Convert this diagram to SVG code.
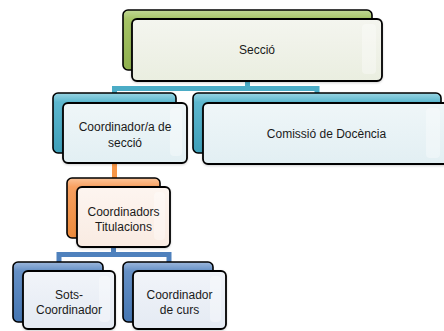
<svg xmlns="http://www.w3.org/2000/svg" width="444" height="331" viewBox="0 0 444 331">
<defs>
<linearGradient id="gGreen" x1="0" y1="0" x2="0" y2="1"><stop offset="0" stop-color="#c2d896"/><stop offset="0.15" stop-color="#a6c466"/><stop offset="1" stop-color="#8fb04e"/></linearGradient>
<linearGradient id="gBlue" x1="0" y1="0" x2="0" y2="1"><stop offset="0" stop-color="#9ad5e3"/><stop offset="0.15" stop-color="#5db8cf"/><stop offset="1" stop-color="#3e9fb9"/></linearGradient>
<linearGradient id="gOrange" x1="0" y1="0" x2="0" y2="1"><stop offset="0" stop-color="#fbc49a"/><stop offset="0.15" stop-color="#f8a060"/><stop offset="1" stop-color="#ec8a3c"/></linearGradient>
<linearGradient id="gSteel" x1="0" y1="0" x2="0" y2="1"><stop offset="0" stop-color="#9db8dc"/><stop offset="0.15" stop-color="#6590c6"/><stop offset="1" stop-color="#4576b2"/></linearGradient>
<linearGradient id="fGreen" x1="0" y1="0" x2="0" y2="1"><stop offset="0" stop-color="#f4f5ef"/><stop offset="1" stop-color="#eaeee0"/></linearGradient>
<linearGradient id="fBlue" x1="0" y1="0" x2="0" y2="1"><stop offset="0" stop-color="#eff6f8"/><stop offset="1" stop-color="#e2eff3"/></linearGradient>
<linearGradient id="fOrange" x1="0" y1="0" x2="0" y2="1"><stop offset="0" stop-color="#fdf5f0"/><stop offset="1" stop-color="#f9ebe2"/></linearGradient>
<linearGradient id="fSteel" x1="0" y1="0" x2="0" y2="1"><stop offset="0" stop-color="#f1f4f9"/><stop offset="1" stop-color="#e4eaf3"/></linearGradient>
<filter id="sh" x="-10%" y="-10%" width="120%" height="130%"><feDropShadow dx="0" dy="1" stdDeviation="1" flood-color="#000" flood-opacity="0.18"/></filter>
</defs>
<style>
.back{stroke:#000;stroke-width:1.6}
.front{stroke:#000;stroke-width:1.8;filter:url(#sh)}
.hl{fill:#ffffff;opacity:0.35}
.conn{fill:none;stroke-width:5;stroke-linejoin:miter}
text{font-family:"Liberation Sans",Arial,sans-serif;font-size:12px;fill:#1a1a1a;text-anchor:middle;dominant-baseline:central}
</style>
<g id="connectors">
<path class="conn" stroke="#4bacc6" d="M247.5,81 V88.5 H114.5 V93 M247.5,88.5 H317 V93"/>
<path class="conn" stroke="#f79646" d="M114.5,163 V178"/>
<path class="conn" stroke="#4f81bd" d="M113.5,247 V254.5 H59 V262 M113.5,254.5 H169 V262"/>
</g>
<g id="n-seccio">
<rect class="back" x="123" y="10" width="249" height="60" rx="5" fill="url(#gGreen)"/>
<rect class="front" x="132" y="19" width="250" height="62" rx="5" fill="url(#fGreen)"/>
<rect class="hl" x="362" y="24" width="14" height="50" rx="4"/>
<text x="257" y="50">Secció</text>
</g>
<g id="n-coord">
<rect class="back" x="53" y="93" width="123" height="60" rx="5" fill="url(#gBlue)"/>
<rect class="front" x="63" y="103" width="124" height="60" rx="5" fill="url(#fBlue)"/>
<rect class="hl" x="170" y="108" width="12" height="48" rx="4"/>
<text x="125" y="127">Coordinador/a de</text>
<text x="125" y="143">secció</text>
</g>
<g id="n-comissio">
<rect class="back" x="193" y="93" width="248" height="60" rx="5" fill="url(#gBlue)"/>
<rect class="front" x="203" y="103" width="247" height="61" rx="5" fill="url(#fBlue)"/>
<rect class="hl" x="426" y="108" width="14" height="50" rx="4"/>
<text x="326.5" y="134">Comissió de Docència</text>
</g>
<g id="n-titulacions">
<rect class="back" x="67" y="178" width="93" height="60" rx="5" fill="url(#gOrange)"/>
<rect class="front" x="77" y="187" width="93" height="60" rx="5" fill="url(#fOrange)"/>
<rect class="hl" x="154" y="192" width="11" height="48" rx="4"/>
<text x="123.5" y="212">Coordinadors</text>
<text x="123.5" y="227">Titulacions</text>
</g>
<g id="n-sots">
<rect class="back" x="13" y="262" width="90" height="60" rx="5" fill="url(#gSteel)"/>
<rect class="front" x="23" y="271" width="92" height="58" rx="5" fill="url(#fSteel)"/>
<rect class="hl" x="99" y="276" width="11" height="46" rx="4"/>
<text x="69" y="295">Sots-</text>
<text x="69" y="310">Coordinador</text>
</g>
<g id="n-curs">
<rect class="back" x="123" y="262" width="90" height="60" rx="5" fill="url(#gSteel)"/>
<rect class="front" x="133" y="271" width="93" height="58" rx="5" fill="url(#fSteel)"/>
<rect class="hl" x="210" y="276" width="11" height="46" rx="4"/>
<text x="179.5" y="295">Coordinador</text>
<text x="179.5" y="310">de curs</text>
</g>
</svg>
